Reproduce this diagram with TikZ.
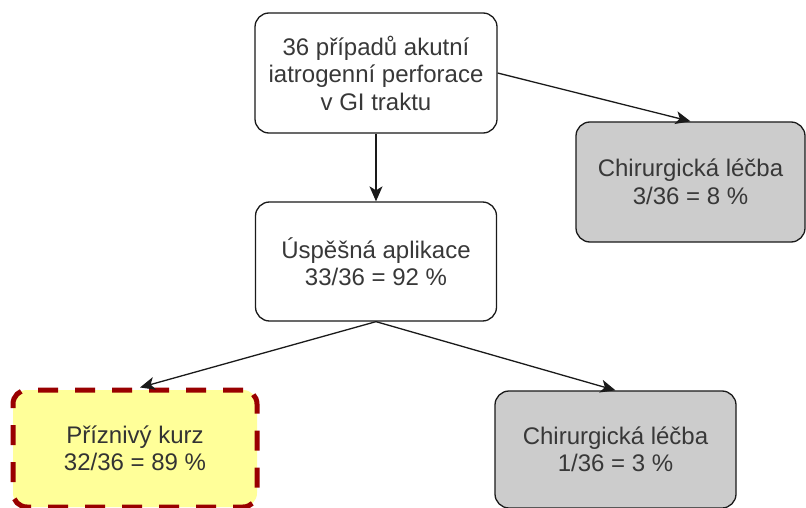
\documentclass[tikz,border=0pt]{standalone}
\usepackage{fontspec}
\setmainfont{Liberation Sans}
\usetikzlibrary{arrows.meta}
\definecolor{boxgray}{HTML}{CCCCCC}
\definecolor{boxyellow}{HTML}{FFFF99}
\definecolor{darkred}{HTML}{990000}
\definecolor{txt}{HTML}{383838}
\definecolor{edge}{HTML}{1A1A1A}
\begin{document}
\begin{tikzpicture}[x=1pt,y=-1pt,
  box/.style={draw=edge, line width=1.3pt, rounded corners=14pt, fill=white,
    inner sep=0pt, align=center, text=txt,
    font=\fontsize{24}{27.5}\selectfont},
  graybox/.style={box, fill=boxgray},
  hlbox/.style={box, fill=boxyellow, draw=darkred, line width=5pt,
    dash pattern=on 20pt off 17pt, text=black!80},
  arr/.style={draw=edge, line width=1.3pt,
    -{Stealth[length=15pt,width=13pt,inset=4pt]}}]
\useasboundingbox (0,0) rectangle (806,508);
\fill[white] (0,0) rectangle (806,508);

\node[box, minimum width=242pt, minimum height=120pt] (top) at (376,73)
  {36 případů akutní\\iatrogenní perforace\\v GI traktu};
\node[graybox, minimum width=229pt, minimum height=120pt] (rt) at (690.5,182)
  {Chirurgická léčba\\3/36 = 8 \%};
\node[box, minimum width=241pt, minimum height=119pt] (mid) at (376,261.5)
  {Úspěšná aplikace\\33/36 = 92 \%};
\node[hlbox, minimum width=244pt, minimum height=117pt] (bl) at (135,448.5)
  {Příznivý kurz\\32/36 = 89 \%};
\node[graybox, minimum width=241pt, minimum height=117pt] (br) at (615.5,449.5)
  {Chirurgická léčba\\1/36 = 3 \%};

\draw[arr] (top.east) -- (rt.north);
\draw[arr] (top.south) -- (mid.north);
\draw[arr] (mid.south) -- ([xshift=5pt]bl.north);
\draw[arr] (mid.south) -- (br.north);
\end{tikzpicture}
\end{document}
